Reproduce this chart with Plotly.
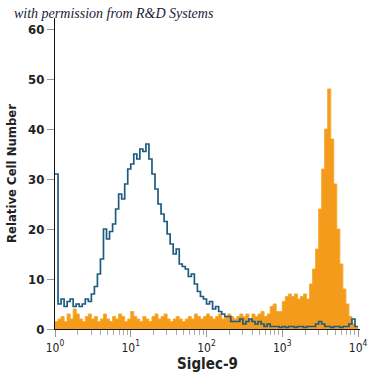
import numpy as np
import plotly.graph_objects as go

# histogram bins: left edges in log10 units, 0.04 decade each
bin_step = 0.04
log_edges = [round(i * bin_step, 2) for i in range(100)]

isotype_counts = [
    31, 5, 6, 4.5, 5.5, 6, 4.5, 5, 4.5, 5,
    6, 5.5, 7, 8.5, 11, 14, 20, 18, 19.5, 21,
    24, 27, 26, 29, 32, 33, 35, 34, 36, 35.5,
    37, 34, 31, 28, 25, 23, 21.5, 19, 17, 15,
    16, 13, 12.5, 12, 10.5, 11, 9, 7.5, 6.5, 6,
    5, 5.5, 4, 4.5, 3.5, 3, 2.5, 2.5, 1.5, 1.5,
    1.5, 2, 1, 1.5, 2, 1.5, 1, 1.5, 1, 0.5,
    1, 0.5, 0.5, 0.5, 0.3, 0.5, 0.3, 0.5, 0.5, 0.3,
    0.5, 0.5, 0.3, 0.5, 0.5, 0.5, 1, 1.5, 1, 0.5,
    0.5, 0.3, 0.5, 0.5, 0.3, 0.5, 0.5, 1, 2, 0.5,
]

siglec9_counts = [
    1.5, 2, 2.5, 1.5, 3, 2, 4, 3, 2, 1.5,
    2.5, 3, 2, 2.5, 1.5, 2, 3, 2, 1.5, 2.5,
    2, 3, 2.5, 1.5, 2, 3.5, 2.5, 2, 1.5, 2.5,
    2, 1.5, 2.5, 3, 2, 2.5, 3, 2, 1.5, 2,
    2.5, 2, 1.5, 2, 2.5, 2, 3, 2.5, 2, 2.5,
    3, 2.5, 2, 2.5, 3, 2, 2.5, 3, 2.5, 2,
    2.5, 3, 2.5, 3, 2, 3, 2.5, 3, 3.5, 2.5,
    3, 4.5, 5, 3.5, 3.5, 5.5, 6.5, 7, 6.5, 7,
    6, 6.5, 7, 6, 9, 12, 16, 24, 32, 40,
    48, 38, 29, 20, 13, 8, 5, 2.5, 1, 0.3,
]

y_ticks = [0, 10, 20, 30, 40, 50, 60]
x_tickvals = [1, 10, 100, 1000, 10000]
x_ticktext = ["10<sup>0</sup>", "10<sup>1</sup>", "10<sup>2</sup>", "10<sup>3</sup>", "10<sup>4</sup>"]

# step outlines (close at the last bin edge)
edges = list(log_edges) + [round(log_edges[-1] + bin_step, 2)]
x_vals = [10 ** e for e in edges]
iso_y = isotype_counts + [isotype_counts[-1]]
sig_y = siglec9_counts + [siglec9_counts[-1]]

minor_vals = [m * 10 ** d for d in range(4) for m in range(2, 10)]

fig = go.Figure()
fig.add_trace(go.Scatter(
    x=x_vals, y=sig_y, mode="lines", line=dict(shape="hv", color="#F6AC33", width=1),
    fill="tozeroy", fillcolor="#F49B1C", hoverinfo="skip"))
fig.add_trace(go.Scatter(
    x=x_vals, y=iso_y, mode="lines", line=dict(shape="hv", color="#1E5B80", width=1.7),
    hoverinfo="skip"))

font_narrow = "DejaVu Sans Condensed, Liberation Sans Narrow, Roboto, sans-serif"

fig.update_layout(
    width=375, height=375,
    margin=dict(l=55, r=15, t=18, b=46),
    paper_bgcolor="white", plot_bgcolor="white",
    showlegend=False,
    font=dict(family=font_narrow, color="#222"),
    xaxis=dict(
        type="log", range=[0, 4.026], automargin=False,
        tickmode="array", tickvals=x_tickvals, ticktext=x_ticktext,
        ticks="outside", ticklen=7, tickcolor="#999", tickwidth=1,
        showline=True, linecolor="#111", linewidth=1.2,
        showgrid=False, zeroline=False,
        tickfont=dict(size=12, family=font_narrow, color="#222"),
        minor=dict(tickmode="array", tickvals=minor_vals, ticks="outside",
                   ticklen=5, tickcolor="#aaa", showgrid=False),
        title=dict(text="<b>Siglec-9</b>", font=dict(size=15, family=font_narrow, color="#222"),
                   standoff=4),
    ),
    yaxis=dict(
        range=[0, 62.2], tickvals=y_ticks, automargin=False,
        ticks="outside", ticklen=7, tickcolor="#999", tickwidth=1,
        showline=True, linecolor="#111", linewidth=1.2,
        showgrid=False, zeroline=False,
        tickfont=dict(size=13, family=font_narrow, color="#222", weight="bold"),
        title=dict(text="<b>Relative Cell Number</b>", font=dict(size=13, family=font_narrow, color="#222"),
                   standoff=8),
    ),
    annotations=[dict(
        text="<i>with permission from R&D Systems</i>",
        xref="paper", yref="paper", x=-0.141, y=1.0, xanchor="left", yanchor="bottom",
        yshift=-5, showarrow=False,
        font=dict(size=14, family="Liberation Serif, DejaVu Serif, serif", color="#1a1a3a"),
    )],
)

fig.write_html("out.html", config={"displayModeBar": False},
               post_script="document.body.style.margin='0';")
